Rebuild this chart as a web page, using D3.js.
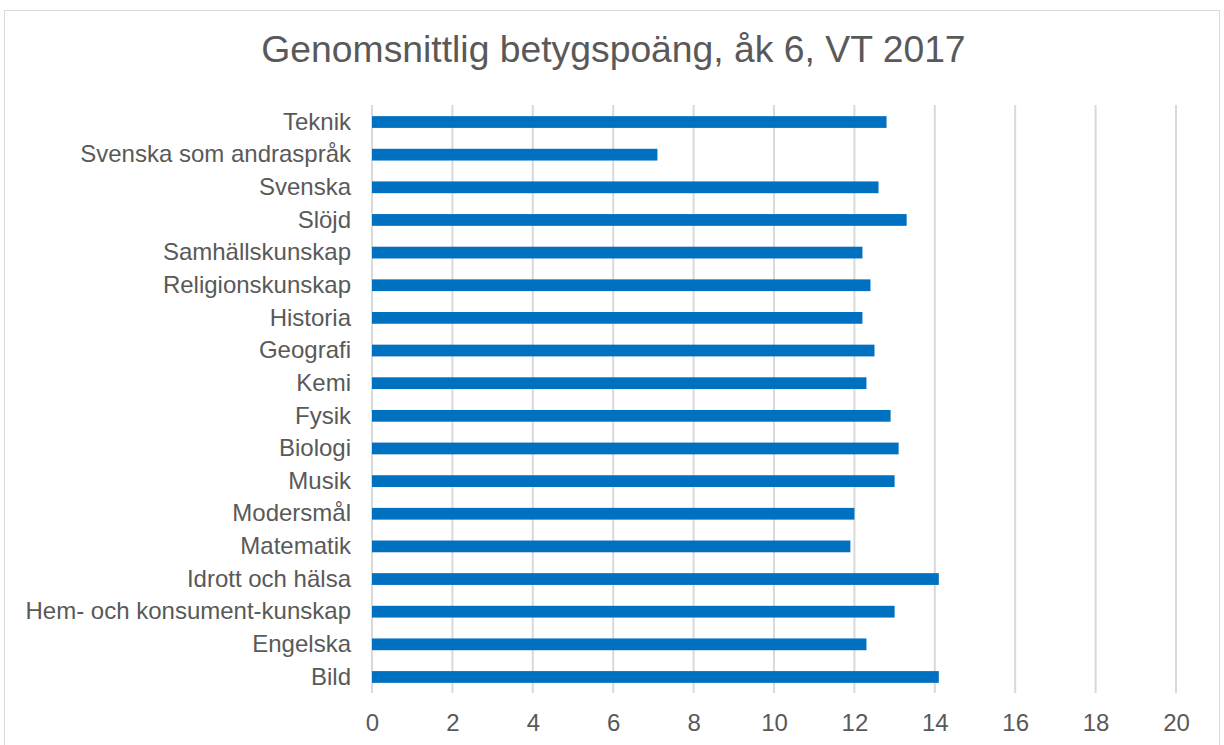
<!DOCTYPE html>
<html><head><meta charset="utf-8">
<script src="https://cdn.jsdelivr.net/npm/d3@7"></script>
<style>body{margin:0;background:#fff}svg{display:block;font-family:"Liberation Sans",Arial,sans-serif}</style>
</head><body>
<svg id="c" width="1224" height="745"></svg>
<script>
const categories = ["Teknik","Svenska som andraspråk","Svenska","Slöjd","Samhällskunskap","Religionskunskap","Historia","Geografi","Kemi","Fysik","Biologi","Musik","Modersmål","Matematik","Idrott och hälsa","Hem- och konsument-kunskap","Engelska","Bild"];
const values = [12.8,7.1,12.6,13.3,12.2,12.4,12.2,12.5,12.3,12.9,13.1,13.0,12.0,11.9,14.1,13.0,12.3,14.1];
const xTicks = [0,2,4,6,8,10,12,14,16,18,20];
const title = "Genomsnittlig betygspoäng, åk 6, VT 2017";

const svg = d3.select("#c");
svg.append("rect").attr("x",4.5).attr("y",10.5).attr("width",1215).attr("height",740)
  .attr("fill","#fff").attr("stroke","#d9d9d9").attr("stroke-width",1);

const x = d3.scaleLinear().domain([0,20]).range([372,1176]);
const y = d3.scaleBand().domain(categories).range([105.7,693.3]).paddingInner(0.64).paddingOuter(0.32);

svg.append("text").attr("x",613.5).attr("y",62).attr("text-anchor","middle")
  .attr("font-size",37.3).attr("fill","#595959").text(title);

// gridlines
svg.append("g").selectAll("line").data(xTicks).join("line")
  .attr("x1",d=>x(d)).attr("x2",d=>x(d)).attr("y1",105).attr("y2",693)
  .attr("stroke","#d9d9d9").attr("stroke-width",2);

// bars
svg.append("g").selectAll("rect").data(categories).join("rect")
  .attr("x",x(0)).attr("y",d=>y(d)).attr("height",y.bandwidth())
  .attr("width",(d,i)=>x(values[i])-x(0)).attr("fill","#0070C0");

// x axis
const xa = svg.append("g").attr("transform","translate(0,693)")
  .call(d3.axisBottom(x).tickValues(xTicks).tickSize(0).tickPadding(21));
xa.select(".domain").remove();
xa.selectAll("text").attr("font-size",24).attr("fill","#595959").attr("font-family","Liberation Sans, Arial, sans-serif");

// y axis
const ya = svg.append("g").attr("transform","translate(372,0)")
  .call(d3.axisLeft(y).tickSize(0).tickPadding(21));
ya.select(".domain").remove();
ya.selectAll("text").attr("font-size",24).attr("fill","#595959").attr("font-family","Liberation Sans, Arial, sans-serif");
</script>
</body></html>
